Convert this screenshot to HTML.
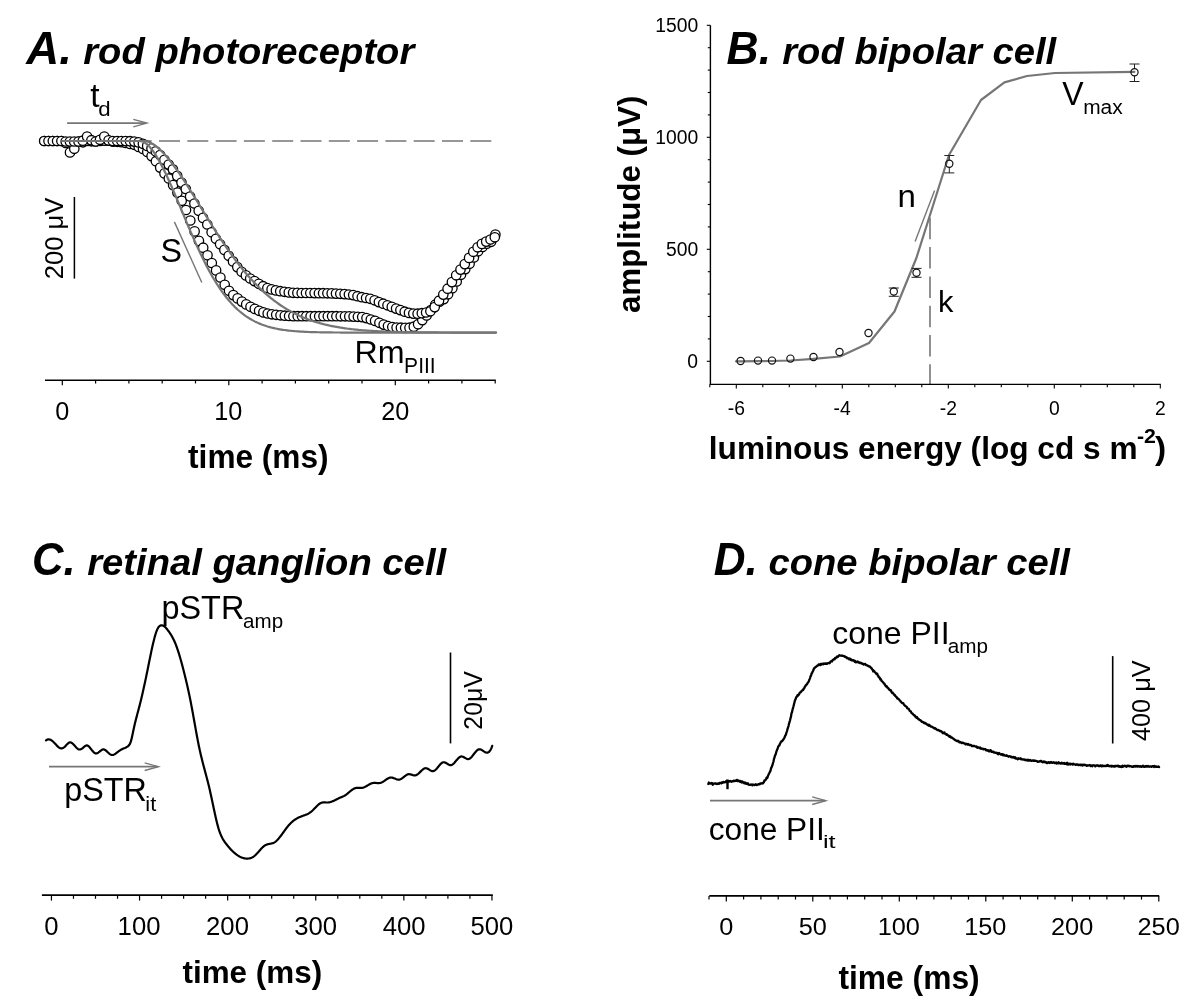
<!DOCTYPE html>
<html><head><meta charset="utf-8">
<style>
html,body{margin:0;padding:0;background:#fff;width:1200px;height:1004px;overflow:hidden}
svg{display:block;font-family:"Liberation Sans",sans-serif;filter:grayscale(1)}
</style></head><body>
<svg width="1200" height="1004" viewBox="0 0 1200 1004">
<line x1="145.30" y1="141.00" x2="496.00" y2="141.00" stroke="#767676" stroke-width="1.6" stroke-dasharray="21 7.3" stroke-dashoffset="14.6"/>
<line x1="174.40" y1="221.90" x2="201.80" y2="282.50" stroke="#767676" stroke-width="1.4"/>
<line x1="67.10" y1="123.10" x2="146.10" y2="123.10" stroke="#767676" stroke-width="1.7"/><path d="M133.30,119.30 L147.10,123.10 L133.30,126.90" fill="none" stroke="#767676" stroke-width="1.3" stroke-linejoin="miter"/>
<g fill="#fff" stroke="#000" stroke-width="1.3"><circle cx="44.2" cy="141.0" r="4.7"/><circle cx="48.5" cy="141.0" r="4.7"/><circle cx="52.8" cy="141.0" r="4.7"/><circle cx="57.1" cy="141.0" r="4.7"/><circle cx="61.4" cy="141.0" r="4.7"/><circle cx="65.7" cy="142.9" r="4.7"/><circle cx="70.0" cy="152.4" r="4.7"/><circle cx="74.3" cy="148.8" r="4.7"/><circle cx="78.6" cy="141.5" r="4.7"/><circle cx="82.9" cy="142.3" r="4.7"/><circle cx="87.2" cy="141.0" r="4.7"/><circle cx="91.5" cy="141.3" r="4.7"/><circle cx="95.8" cy="141.5" r="4.7"/><circle cx="100.1" cy="141.0" r="4.7"/><circle cx="104.4" cy="140.6" r="4.7"/><circle cx="108.7" cy="140.6" r="4.7"/><circle cx="113.0" cy="141.6" r="4.7"/><circle cx="117.3" cy="141.8" r="4.7"/><circle cx="121.5" cy="142.2" r="4.7"/><circle cx="125.8" cy="143.0" r="4.7"/><circle cx="130.1" cy="143.9" r="4.7"/><circle cx="134.4" cy="144.8" r="4.7"/><circle cx="138.7" cy="146.9" r="4.7"/><circle cx="143.0" cy="149.0" r="4.7"/><circle cx="147.3" cy="151.9" r="4.7"/><circle cx="151.6" cy="156.1" r="4.7"/><circle cx="155.9" cy="161.2" r="4.7"/><circle cx="160.2" cy="167.6" r="4.7"/><circle cx="164.5" cy="173.4" r="4.7"/><circle cx="168.8" cy="178.5" r="4.7"/><circle cx="173.1" cy="185.1" r="4.7"/><circle cx="177.4" cy="192.6" r="4.7"/><circle cx="181.7" cy="200.8" r="4.7"/><circle cx="186.0" cy="210.0" r="4.7"/><circle cx="190.3" cy="220.5" r="4.7"/><circle cx="194.6" cy="231.4" r="4.7"/><circle cx="198.9" cy="240.9" r="4.7"/><circle cx="203.2" cy="247.7" r="4.7"/><circle cx="207.5" cy="255.3" r="4.7"/><circle cx="211.8" cy="263.0" r="4.7"/><circle cx="216.1" cy="270.4" r="4.7"/><circle cx="220.4" cy="277.5" r="4.7"/><circle cx="224.7" cy="284.8" r="4.7"/><circle cx="229.0" cy="290.8" r="4.7"/><circle cx="233.3" cy="295.1" r="4.7"/><circle cx="237.6" cy="298.4" r="4.7"/><circle cx="241.9" cy="301.6" r="4.7"/><circle cx="246.2" cy="304.4" r="4.7"/><circle cx="250.5" cy="306.8" r="4.7"/><circle cx="254.8" cy="308.9" r="4.7"/><circle cx="259.1" cy="310.8" r="4.7"/><circle cx="263.4" cy="312.4" r="4.7"/><circle cx="267.7" cy="313.5" r="4.7"/><circle cx="271.9" cy="314.3" r="4.7"/><circle cx="276.2" cy="314.8" r="4.7"/><circle cx="280.5" cy="315.3" r="4.7"/><circle cx="284.8" cy="315.7" r="4.7"/><circle cx="289.1" cy="316.0" r="4.7"/><circle cx="293.4" cy="316.2" r="4.7"/><circle cx="297.7" cy="316.2" r="4.7"/><circle cx="302.0" cy="316.2" r="4.7"/><circle cx="306.3" cy="316.2" r="4.7"/><circle cx="310.6" cy="316.2" r="4.7"/><circle cx="314.9" cy="316.2" r="4.7"/><circle cx="319.2" cy="316.2" r="4.7"/><circle cx="323.5" cy="316.2" r="4.7"/><circle cx="327.8" cy="316.2" r="4.7"/><circle cx="332.1" cy="316.2" r="4.7"/><circle cx="336.4" cy="316.2" r="4.7"/><circle cx="340.7" cy="316.3" r="4.7"/><circle cx="345.0" cy="316.3" r="4.7"/><circle cx="349.3" cy="316.4" r="4.7"/><circle cx="353.6" cy="316.6" r="4.7"/><circle cx="357.9" cy="316.8" r="4.7"/><circle cx="362.2" cy="317.1" r="4.7"/><circle cx="366.5" cy="318.1" r="4.7"/><circle cx="370.8" cy="319.5" r="4.7"/><circle cx="375.1" cy="320.9" r="4.7"/><circle cx="379.4" cy="322.8" r="4.7"/><circle cx="383.7" cy="324.6" r="4.7"/><circle cx="388.0" cy="326.0" r="4.7"/><circle cx="392.3" cy="327.1" r="4.7"/><circle cx="396.6" cy="327.6" r="4.7"/><circle cx="400.9" cy="327.7" r="4.7"/><circle cx="405.2" cy="327.8" r="4.7"/><circle cx="409.5" cy="327.7" r="4.7"/><circle cx="413.8" cy="326.7" r="4.7"/><circle cx="418.1" cy="324.2" r="4.7"/><circle cx="422.3" cy="320.1" r="4.7"/><circle cx="426.6" cy="315.5" r="4.7"/><circle cx="430.9" cy="310.0" r="4.7"/><circle cx="435.2" cy="304.7" r="4.7"/><circle cx="439.5" cy="301.7" r="4.7"/><circle cx="443.8" cy="299.1" r="4.7"/><circle cx="448.1" cy="294.3" r="4.7"/><circle cx="452.4" cy="288.2" r="4.7"/><circle cx="456.7" cy="281.5" r="4.7"/><circle cx="461.0" cy="274.8" r="4.7"/><circle cx="465.3" cy="269.1" r="4.7"/><circle cx="469.6" cy="263.7" r="4.7"/><circle cx="473.9" cy="257.4" r="4.7"/><circle cx="478.2" cy="251.3" r="4.7"/><circle cx="482.5" cy="247.0" r="4.7"/><circle cx="486.8" cy="243.7" r="4.7"/><circle cx="491.1" cy="241.8" r="4.7"/><circle cx="495.4" cy="234.5" r="4.7"/><circle cx="44.2" cy="141.0" r="4.7"/><circle cx="48.5" cy="141.0" r="4.7"/><circle cx="52.8" cy="141.0" r="4.7"/><circle cx="57.1" cy="141.0" r="4.7"/><circle cx="61.4" cy="141.0" r="4.7"/><circle cx="65.7" cy="141.5" r="4.7"/><circle cx="69.9" cy="141.5" r="4.7"/><circle cx="74.2" cy="141.5" r="4.7"/><circle cx="78.5" cy="141.5" r="4.7"/><circle cx="82.8" cy="140.7" r="4.7"/><circle cx="87.1" cy="136.6" r="4.7"/><circle cx="91.4" cy="140.2" r="4.7"/><circle cx="95.7" cy="141.5" r="4.7"/><circle cx="100.0" cy="139.8" r="4.7"/><circle cx="104.3" cy="136.6" r="4.7"/><circle cx="108.6" cy="140.4" r="4.7"/><circle cx="112.9" cy="141.0" r="4.7"/><circle cx="117.2" cy="141.0" r="4.7"/><circle cx="121.4" cy="141.0" r="4.7"/><circle cx="125.7" cy="141.1" r="4.7"/><circle cx="130.0" cy="141.2" r="4.7"/><circle cx="134.3" cy="141.6" r="4.7"/><circle cx="138.6" cy="142.4" r="4.7"/><circle cx="142.9" cy="143.8" r="4.7"/><circle cx="147.2" cy="145.9" r="4.7"/><circle cx="151.5" cy="148.4" r="4.7"/><circle cx="155.8" cy="151.4" r="4.7"/><circle cx="160.1" cy="155.1" r="4.7"/><circle cx="164.4" cy="159.8" r="4.7"/><circle cx="168.7" cy="164.5" r="4.7"/><circle cx="172.9" cy="169.3" r="4.7"/><circle cx="177.2" cy="175.9" r="4.7"/><circle cx="181.5" cy="182.6" r="4.7"/><circle cx="185.8" cy="189.0" r="4.7"/><circle cx="190.1" cy="196.5" r="4.7"/><circle cx="194.4" cy="203.5" r="4.7"/><circle cx="198.7" cy="210.8" r="4.7"/><circle cx="203.0" cy="217.9" r="4.7"/><circle cx="207.3" cy="224.5" r="4.7"/><circle cx="211.6" cy="232.3" r="4.7"/><circle cx="215.9" cy="238.8" r="4.7"/><circle cx="220.1" cy="244.3" r="4.7"/><circle cx="224.4" cy="249.9" r="4.7"/><circle cx="228.7" cy="255.8" r="4.7"/><circle cx="233.0" cy="261.4" r="4.7"/><circle cx="237.3" cy="267.1" r="4.7"/><circle cx="241.6" cy="271.8" r="4.7"/><circle cx="245.9" cy="275.4" r="4.7"/><circle cx="250.2" cy="278.5" r="4.7"/><circle cx="254.5" cy="281.1" r="4.7"/><circle cx="258.8" cy="283.8" r="4.7"/><circle cx="263.1" cy="286.2" r="4.7"/><circle cx="267.4" cy="288.0" r="4.7"/><circle cx="271.6" cy="289.4" r="4.7"/><circle cx="275.9" cy="290.4" r="4.7"/><circle cx="280.2" cy="291.2" r="4.7"/><circle cx="284.5" cy="291.8" r="4.7"/><circle cx="288.8" cy="292.4" r="4.7"/><circle cx="293.1" cy="292.8" r="4.7"/><circle cx="297.4" cy="292.9" r="4.7"/><circle cx="301.7" cy="293.0" r="4.7"/><circle cx="306.0" cy="293.0" r="4.7"/><circle cx="310.3" cy="293.0" r="4.7"/><circle cx="314.6" cy="293.1" r="4.7"/><circle cx="318.9" cy="293.2" r="4.7"/><circle cx="323.1" cy="293.2" r="4.7"/><circle cx="327.4" cy="293.3" r="4.7"/><circle cx="331.7" cy="293.4" r="4.7"/><circle cx="336.0" cy="293.6" r="4.7"/><circle cx="340.3" cy="293.8" r="4.7"/><circle cx="344.6" cy="294.1" r="4.7"/><circle cx="348.9" cy="294.5" r="4.7"/><circle cx="353.2" cy="295.1" r="4.7"/><circle cx="357.5" cy="296.2" r="4.7"/><circle cx="361.8" cy="297.2" r="4.7"/><circle cx="366.1" cy="298.0" r="4.7"/><circle cx="370.3" cy="298.8" r="4.7"/><circle cx="374.6" cy="300.3" r="4.7"/><circle cx="378.9" cy="302.1" r="4.7"/><circle cx="383.2" cy="303.7" r="4.7"/><circle cx="387.5" cy="305.3" r="4.7"/><circle cx="391.8" cy="306.9" r="4.7"/><circle cx="396.1" cy="308.6" r="4.7"/><circle cx="400.4" cy="310.1" r="4.7"/><circle cx="404.7" cy="311.7" r="4.7"/><circle cx="409.0" cy="312.9" r="4.7"/><circle cx="413.3" cy="313.6" r="4.7"/><circle cx="417.6" cy="313.7" r="4.7"/><circle cx="421.8" cy="313.2" r="4.7"/><circle cx="426.1" cy="312.5" r="4.7"/><circle cx="430.4" cy="311.3" r="4.7"/><circle cx="434.7" cy="307.1" r="4.7"/><circle cx="439.0" cy="300.7" r="4.7"/><circle cx="443.3" cy="294.6" r="4.7"/><circle cx="447.6" cy="288.7" r="4.7"/><circle cx="451.9" cy="282.1" r="4.7"/><circle cx="456.2" cy="275.3" r="4.7"/><circle cx="460.5" cy="269.6" r="4.7"/><circle cx="464.8" cy="264.1" r="4.7"/><circle cx="469.1" cy="257.9" r="4.7"/><circle cx="473.3" cy="251.8" r="4.7"/><circle cx="477.6" cy="247.3" r="4.7"/><circle cx="481.9" cy="243.9" r="4.7"/><circle cx="486.2" cy="241.6" r="4.7"/><circle cx="490.5" cy="239.5" r="4.7"/><circle cx="494.8" cy="237.3" r="4.7"/></g>
<path d="M62.30,141.00 L63.75,141.00 L65.20,141.00 L66.65,141.00 L68.10,141.00 L69.55,141.00 L71.00,141.00 L72.45,141.00 L73.90,141.00 L75.36,141.00 L76.81,141.00 L78.26,141.00 L79.71,141.00 L81.16,141.00 L82.61,141.00 L84.06,141.00 L85.51,141.00 L86.96,141.00 L88.41,141.00 L89.86,141.00 L91.31,141.00 L92.76,141.00 L94.21,141.00 L95.66,141.00 L97.11,141.00 L98.57,141.00 L100.02,141.00 L101.47,141.00 L102.92,141.00 L104.37,141.00 L105.82,141.00 L107.27,141.00 L108.72,141.00 L110.17,141.00 L111.62,141.00 L113.07,141.00 L114.52,141.00 L115.97,141.00 L117.42,141.00 L118.87,141.00 L120.32,141.00 L121.78,141.00 L123.23,141.00 L124.68,141.00 L126.13,141.00 L127.58,141.00 L129.03,141.00 L130.48,141.00 L131.93,141.00 L133.38,141.00 L134.83,141.00 L136.28,141.00 L137.73,141.00 L139.18,141.00 L140.63,141.03 L142.08,141.35 L143.53,141.93 L144.98,142.76 L146.44,143.82 L147.89,145.08 L149.34,146.54 L150.79,148.19 L152.24,150.01 L153.69,152.00 L155.14,154.15 L156.59,156.44 L158.04,158.87 L159.49,161.43 L160.94,164.11 L162.39,166.90 L163.84,169.79 L165.29,172.77 L166.74,175.84 L168.19,178.99 L169.65,182.20 L171.10,185.48 L172.55,188.81 L174.00,192.18 L175.45,195.58 L176.90,199.02 L178.35,202.48 L179.80,205.95 L181.25,209.43 L182.70,212.91 L184.15,216.39 L185.60,219.86 L187.05,223.31 L188.50,226.74 L189.95,230.15 L191.40,233.52 L192.85,236.85 L194.31,240.15 L195.76,243.40 L197.21,246.60 L198.66,249.75 L200.11,252.85 L201.56,255.89 L203.01,258.87 L204.46,261.78 L205.91,264.63 L207.36,267.42 L208.81,270.14 L210.26,272.79 L211.71,275.37 L213.16,277.87 L214.61,280.31 L216.06,282.67 L217.52,284.97 L218.97,287.19 L220.42,289.33 L221.87,291.41 L223.32,293.41 L224.77,295.35 L226.22,297.21 L227.67,299.00 L229.12,300.73 L230.57,302.39 L232.02,303.98 L233.47,305.50 L234.92,306.97 L236.37,308.37 L237.82,309.71 L239.27,310.99 L240.73,312.22 L242.18,313.38 L243.63,314.50 L245.08,315.56 L246.53,316.57 L247.98,317.53 L249.43,318.44 L250.88,319.30 L252.33,320.13 L253.78,320.90 L255.23,321.64 L256.68,322.34 L258.13,323.00 L259.58,323.62 L261.03,324.21 L262.48,324.77 L263.93,325.29 L265.39,325.78 L266.84,326.25 L268.29,326.68 L269.74,327.09 L271.19,327.48 L272.64,327.84 L274.09,328.18 L275.54,328.49 L276.99,328.79 L278.44,329.07 L279.89,329.33 L281.34,329.57 L282.79,329.80 L284.24,330.01 L285.69,330.21 L287.14,330.39 L288.60,330.56 L290.05,330.72 L291.50,330.87 L292.95,331.00 L294.40,331.13 L295.85,331.25 L297.30,331.36 L298.75,331.46 L300.20,331.55 L301.65,331.64 L303.10,331.72 L304.55,331.79 L306.00,331.86 L307.45,331.92 L308.90,331.98 L310.35,332.03 L311.80,332.08 L313.26,332.13 L314.71,332.17 L316.16,332.21 L317.61,332.24 L319.06,332.27 L320.51,332.30 L321.96,332.33 L323.41,332.35 L324.86,332.38 L326.31,332.40 L327.76,332.42 L329.21,332.43 L330.66,332.45 L332.11,332.46 L333.56,332.48 L335.01,332.49 L336.47,332.50 L337.92,332.51 L339.37,332.52 L340.82,332.53 L342.27,332.53 L343.72,332.54 L345.17,332.55 L346.62,332.55 L348.07,332.56 L349.52,332.56 L350.97,332.56 L352.42,332.57 L353.87,332.57 L355.32,332.57 L356.77,332.58 L358.22,332.58 L359.68,332.58 L361.13,332.58 L362.58,332.59 L364.03,332.59 L365.48,332.59 L366.93,332.59 L368.38,332.59 L369.83,332.59 L371.28,332.59 L372.73,332.59 L374.18,332.59 L375.63,332.59 L377.08,332.60 L378.53,332.60 L379.98,332.60 L381.43,332.60 L382.88,332.60 L384.34,332.60 L385.79,332.60 L387.24,332.60 L388.69,332.60 L390.14,332.60 L391.59,332.60 L393.04,332.60 L394.49,332.60 L395.94,332.60 L397.39,332.60 L398.84,332.60 L400.29,332.60 L401.74,332.60 L403.19,332.60 L404.64,332.60 L406.09,332.60 L407.55,332.60 L409.00,332.60 L410.45,332.60 L411.90,332.60 L413.35,332.60 L414.80,332.60 L416.25,332.60 L417.70,332.60 L419.15,332.60 L420.60,332.60 L422.05,332.60 L423.50,332.60 L424.95,332.60 L426.40,332.60 L427.85,332.60 L429.30,332.60 L430.76,332.60 L432.21,332.60 L433.66,332.60 L435.11,332.60 L436.56,332.60 L438.01,332.60 L439.46,332.60 L440.91,332.60 L442.36,332.60 L443.81,332.60 L445.26,332.60 L446.71,332.60 L448.16,332.60 L449.61,332.60 L451.06,332.60 L452.51,332.60 L453.96,332.60 L455.42,332.60 L456.87,332.60 L458.32,332.60 L459.77,332.60 L461.22,332.60 L462.67,332.60 L464.12,332.60 L465.57,332.60 L467.02,332.60 L468.47,332.60 L469.92,332.60 L471.37,332.60 L472.82,332.60 L474.27,332.60 L475.72,332.60 L477.17,332.60 L478.63,332.60 L480.08,332.60 L481.53,332.60 L482.98,332.60 L484.43,332.60 L485.88,332.60 L487.33,332.60 L488.78,332.60 L490.23,332.60 L491.68,332.60 L493.13,332.60 L494.58,332.60 L496.03,332.60" fill="none" stroke="#767676" stroke-width="2.2" stroke-linejoin="round" stroke-linecap="round"/>
<path d="M62.30,141.00 L63.75,141.00 L65.20,141.00 L66.65,141.00 L68.10,141.00 L69.55,141.00 L71.00,141.00 L72.45,141.00 L73.90,141.00 L75.36,141.00 L76.81,141.00 L78.26,141.00 L79.71,141.00 L81.16,141.00 L82.61,141.00 L84.06,141.00 L85.51,141.00 L86.96,141.00 L88.41,141.00 L89.86,141.00 L91.31,141.00 L92.76,141.00 L94.21,141.00 L95.66,141.00 L97.11,141.00 L98.57,141.00 L100.02,141.00 L101.47,141.00 L102.92,141.00 L104.37,141.00 L105.82,141.00 L107.27,141.00 L108.72,141.00 L110.17,141.00 L111.62,141.00 L113.07,141.00 L114.52,141.00 L115.97,141.00 L117.42,141.00 L118.87,141.00 L120.32,141.00 L121.78,141.00 L123.23,141.00 L124.68,141.00 L126.13,141.00 L127.58,141.00 L129.03,141.00 L130.48,141.00 L131.93,141.00 L133.38,141.00 L134.83,141.00 L136.28,141.00 L137.73,141.00 L139.18,141.00 L140.63,141.00 L142.08,141.00 L143.53,141.00 L144.98,141.03 L146.44,141.27 L147.89,141.68 L149.34,142.23 L150.79,142.91 L152.24,143.70 L153.69,144.61 L155.14,145.62 L156.59,146.72 L158.04,147.92 L159.49,149.21 L160.94,150.58 L162.39,152.03 L163.84,153.55 L165.29,155.14 L166.74,156.80 L168.19,158.53 L169.65,160.31 L171.10,162.15 L172.55,164.05 L174.00,165.99 L175.45,167.98 L176.90,170.01 L178.35,172.09 L179.80,174.20 L181.25,176.35 L182.70,178.53 L184.15,180.73 L185.60,182.97 L187.05,185.23 L188.50,187.51 L189.95,189.80 L191.40,192.12 L192.85,194.45 L194.31,196.78 L195.76,199.13 L197.21,201.49 L198.66,203.85 L200.11,206.21 L201.56,208.57 L203.01,210.93 L204.46,213.29 L205.91,215.64 L207.36,217.99 L208.81,220.33 L210.26,222.65 L211.71,224.97 L213.16,227.27 L214.61,229.56 L216.06,231.83 L217.52,234.08 L218.97,236.31 L220.42,238.53 L221.87,240.72 L223.32,242.89 L224.77,245.04 L226.22,247.16 L227.67,249.26 L229.12,251.34 L230.57,253.38 L232.02,255.40 L233.47,257.39 L234.92,259.35 L236.37,261.29 L237.82,263.19 L239.27,265.07 L240.73,266.91 L242.18,268.72 L243.63,270.50 L245.08,272.25 L246.53,273.97 L247.98,275.66 L249.43,277.31 L250.88,278.93 L252.33,280.52 L253.78,282.08 L255.23,283.61 L256.68,285.10 L258.13,286.56 L259.58,287.99 L261.03,289.39 L262.48,290.75 L263.93,292.09 L265.39,293.39 L266.84,294.66 L268.29,295.91 L269.74,297.12 L271.19,298.30 L272.64,299.45 L274.09,300.57 L275.54,301.66 L276.99,302.72 L278.44,303.76 L279.89,304.76 L281.34,305.74 L282.79,306.69 L284.24,307.62 L285.69,308.52 L287.14,309.39 L288.60,310.24 L290.05,311.06 L291.50,311.86 L292.95,312.63 L294.40,313.38 L295.85,314.10 L297.30,314.81 L298.75,315.49 L300.20,316.15 L301.65,316.79 L303.10,317.41 L304.55,318.00 L306.00,318.58 L307.45,319.14 L308.90,319.68 L310.35,320.20 L311.80,320.70 L313.26,321.19 L314.71,321.66 L316.16,322.11 L317.61,322.55 L319.06,322.97 L320.51,323.37 L321.96,323.77 L323.41,324.14 L324.86,324.50 L326.31,324.85 L327.76,325.19 L329.21,325.51 L330.66,325.82 L332.11,326.12 L333.56,326.41 L335.01,326.68 L336.47,326.95 L337.92,327.20 L339.37,327.45 L340.82,327.68 L342.27,327.91 L343.72,328.12 L345.17,328.33 L346.62,328.53 L348.07,328.72 L349.52,328.90 L350.97,329.07 L352.42,329.24 L353.87,329.40 L355.32,329.56 L356.77,329.70 L358.22,329.84 L359.68,329.98 L361.13,330.10 L362.58,330.23 L364.03,330.34 L365.48,330.45 L366.93,330.56 L368.38,330.66 L369.83,330.76 L371.28,330.85 L372.73,330.94 L374.18,331.03 L375.63,331.11 L377.08,331.18 L378.53,331.26 L379.98,331.33 L381.43,331.39 L382.88,331.46 L384.34,331.52 L385.79,331.57 L387.24,331.63 L388.69,331.68 L390.14,331.73 L391.59,331.77 L393.04,331.82 L394.49,331.86 L395.94,331.90 L397.39,331.94 L398.84,331.98 L400.29,332.01 L401.74,332.04 L403.19,332.07 L404.64,332.10 L406.09,332.13 L407.55,332.16 L409.00,332.18 L410.45,332.21 L411.90,332.23 L413.35,332.25 L414.80,332.27 L416.25,332.29 L417.70,332.31 L419.15,332.32 L420.60,332.34 L422.05,332.35 L423.50,332.37 L424.95,332.38 L426.40,332.39 L427.85,332.41 L429.30,332.42 L430.76,332.43 L432.21,332.44 L433.66,332.45 L435.11,332.46 L436.56,332.47 L438.01,332.47 L439.46,332.48 L440.91,332.49 L442.36,332.50 L443.81,332.50 L445.26,332.51 L446.71,332.51 L448.16,332.52 L449.61,332.52 L451.06,332.53 L452.51,332.53 L453.96,332.54 L455.42,332.54 L456.87,332.55 L458.32,332.55 L459.77,332.55 L461.22,332.56 L462.67,332.56 L464.12,332.56 L465.57,332.56 L467.02,332.57 L468.47,332.57 L469.92,332.57 L471.37,332.57 L472.82,332.57 L474.27,332.58 L475.72,332.58 L477.17,332.58 L478.63,332.58 L480.08,332.58 L481.53,332.58 L482.98,332.58 L484.43,332.58 L485.88,332.59 L487.33,332.59 L488.78,332.59 L490.23,332.59 L491.68,332.59 L493.13,332.59 L494.58,332.59 L496.03,332.59" fill="none" stroke="#767676" stroke-width="2.2" stroke-linejoin="round" stroke-linecap="round"/>
<line x1="930.00" y1="217.80" x2="930.00" y2="384.40" stroke="#767676" stroke-width="1.6" stroke-dasharray="21.5 7.8" stroke-dashoffset="0"/>
<path d="M736.00,361.30 L740.60,361.30 L758.00,361.20 L772.00,361.00 L790.40,360.50 L813.60,358.80 L840.00,356.50 L869.00,343.00 L894.50,311.50 L916.40,258.00 L949.00,155.00 L981.00,100.00 L1004.40,82.40 L1027.00,76.00 L1055.00,73.00 L1134.40,71.80" fill="none" stroke="#767676" stroke-width="2.2" stroke-linejoin="round" stroke-linecap="round"/>
<line x1="915.10" y1="241.40" x2="934.60" y2="190.50" stroke="#767676" stroke-width="1.4"/>
<line x1="893.80" y1="288.00" x2="893.80" y2="287.90" stroke="#222" stroke-width="1.0"/>
<line x1="893.80" y1="295.10" x2="893.80" y2="296.30" stroke="#222" stroke-width="1.0"/>
<line x1="888.80" y1="288.00" x2="898.80" y2="288.00" stroke="#222" stroke-width="1.0"/>
<line x1="888.80" y1="296.30" x2="898.80" y2="296.30" stroke="#222" stroke-width="1.0"/>
<line x1="916.50" y1="268.40" x2="916.50" y2="269.20" stroke="#222" stroke-width="1.0"/>
<line x1="916.50" y1="276.40" x2="916.50" y2="277.30" stroke="#222" stroke-width="1.0"/>
<line x1="911.50" y1="268.40" x2="921.50" y2="268.40" stroke="#222" stroke-width="1.0"/>
<line x1="911.50" y1="277.30" x2="921.50" y2="277.30" stroke="#222" stroke-width="1.0"/>
<line x1="949.30" y1="155.50" x2="949.30" y2="160.20" stroke="#222" stroke-width="1.0"/>
<line x1="949.30" y1="167.40" x2="949.30" y2="172.90" stroke="#222" stroke-width="1.0"/>
<line x1="944.30" y1="155.50" x2="954.30" y2="155.50" stroke="#222" stroke-width="1.0"/>
<line x1="944.30" y1="172.90" x2="954.30" y2="172.90" stroke="#222" stroke-width="1.0"/>
<line x1="1134.50" y1="64.00" x2="1134.50" y2="68.70" stroke="#222" stroke-width="1.0"/>
<line x1="1134.50" y1="75.90" x2="1134.50" y2="81.50" stroke="#222" stroke-width="1.0"/>
<line x1="1129.50" y1="64.00" x2="1139.50" y2="64.00" stroke="#222" stroke-width="1.0"/>
<line x1="1129.50" y1="81.50" x2="1139.50" y2="81.50" stroke="#222" stroke-width="1.0"/>
<g fill="none" stroke="#111" stroke-width="1.2"><circle cx="740.6" cy="361.0" r="3.6"/><circle cx="758.0" cy="360.6" r="3.6"/><circle cx="772.0" cy="360.6" r="3.6"/><circle cx="790.4" cy="358.6" r="3.6"/><circle cx="813.5" cy="357.0" r="3.6"/><circle cx="839.5" cy="352.0" r="3.6"/><circle cx="868.5" cy="333.0" r="3.6"/><circle cx="893.8" cy="291.5" r="3.6"/><circle cx="916.5" cy="272.8" r="3.6"/><circle cx="949.3" cy="163.8" r="3.6"/><circle cx="1134.5" cy="72.3" r="3.6"/></g>
<line x1="49.00" y1="766.70" x2="157.50" y2="766.70" stroke="#767676" stroke-width="1.7"/><path d="M144.70,762.90 L158.50,766.70 L144.70,770.50" fill="none" stroke="#767676" stroke-width="1.3" stroke-linejoin="miter"/>
<path d="M46.00,740.40 L46.50,740.04 L46.99,739.76 L47.49,739.56 L47.99,739.44 L48.48,739.38 L48.98,739.40 L49.47,739.48 L49.97,739.61 L50.47,739.81 L50.96,740.06 L51.46,740.35 L51.96,740.69 L52.45,741.07 L52.95,741.49 L53.44,741.94 L53.94,742.43 L54.44,742.93 L54.93,743.46 L55.43,744.01 L55.93,744.56 L56.42,745.10 L56.92,745.63 L57.42,746.14 L57.91,746.63 L58.41,747.07 L58.90,747.46 L59.40,747.80 L59.90,748.08 L60.39,748.28 L60.89,748.40 L61.39,748.43 L61.88,748.37 L62.38,748.24 L62.88,748.03 L63.37,747.76 L63.87,747.43 L64.36,747.05 L64.86,746.61 L65.36,746.14 L65.85,745.64 L66.35,745.11 L66.85,744.59 L67.34,744.08 L67.84,743.60 L68.33,743.18 L68.83,742.83 L69.33,742.57 L69.82,742.41 L70.32,742.38 L70.82,742.46 L71.31,742.65 L71.81,742.93 L72.31,743.28 L72.80,743.71 L73.30,744.19 L73.79,744.71 L74.29,745.26 L74.79,745.83 L75.28,746.40 L75.78,746.97 L76.28,747.51 L76.77,748.01 L77.27,748.46 L77.77,748.85 L78.26,749.17 L78.76,749.39 L79.25,749.50 L79.75,749.52 L80.25,749.45 L80.74,749.30 L81.24,749.08 L81.74,748.79 L82.23,748.45 L82.73,748.06 L83.22,747.63 L83.72,747.19 L84.22,746.75 L84.71,746.33 L85.21,745.97 L85.71,745.68 L86.20,745.48 L86.70,745.40 L87.20,745.46 L87.69,745.64 L88.19,745.94 L88.68,746.34 L89.18,746.82 L89.68,747.36 L90.17,747.96 L90.67,748.58 L91.17,749.21 L91.66,749.85 L92.16,750.47 L92.65,751.06 L93.15,751.62 L93.65,752.12 L94.14,752.56 L94.64,752.93 L95.14,753.20 L95.63,753.37 L96.13,753.42 L96.63,753.37 L97.12,753.22 L97.62,753.00 L98.11,752.70 L98.61,752.36 L99.11,751.98 L99.60,751.58 L100.10,751.17 L100.60,750.77 L101.09,750.40 L101.59,750.06 L102.09,749.77 L102.58,749.56 L103.08,749.43 L103.57,749.39 L104.07,749.47 L104.57,749.65 L105.06,749.92 L105.56,750.27 L106.06,750.67 L106.55,751.11 L107.05,751.58 L107.54,752.06 L108.04,752.54 L108.54,752.99 L109.03,753.42 L109.53,753.81 L110.03,754.16 L110.52,754.46 L111.02,754.70 L111.52,754.88 L112.01,754.98 L112.51,755.01 L113.00,754.95 L113.50,754.82 L114.00,754.61 L114.49,754.34 L114.99,754.02 L115.49,753.67 L115.98,753.30 L116.48,752.91 L116.98,752.52 L117.47,752.14 L117.97,751.77 L118.46,751.41 L118.96,751.06 L119.46,750.73 L119.95,750.41 L120.45,750.10 L120.95,749.81 L121.44,749.54 L121.94,749.28 L122.43,749.04 L122.93,748.81 L123.43,748.58 L123.92,748.36 L124.42,748.14 L124.92,747.92 L125.41,747.69 L125.91,747.44 L126.41,747.18 L126.90,746.90 L127.40,746.60 L127.89,746.27 L128.39,745.88 L128.89,745.40 L129.38,744.76 L129.88,743.92 L130.38,742.82 L130.87,741.42 L131.37,739.67 L131.86,737.62 L132.36,735.35 L132.86,732.98 L133.35,730.57 L133.85,728.23 L134.35,726.00 L134.84,723.86 L135.34,721.79 L135.84,719.80 L136.33,717.86 L136.83,715.96 L137.32,714.09 L137.82,712.23 L138.32,710.37 L138.81,708.51 L139.31,706.62 L139.81,704.69 L140.30,702.73 L140.80,700.72 L141.30,698.66 L141.79,696.57 L142.29,694.45 L142.78,692.28 L143.28,690.08 L143.78,687.85 L144.27,685.59 L144.77,683.29 L145.27,680.97 L145.76,678.62 L146.26,676.24 L146.75,673.84 L147.25,671.42 L147.75,668.97 L148.24,666.51 L148.74,664.04 L149.24,661.57 L149.73,659.11 L150.23,656.66 L150.73,654.25 L151.22,651.88 L151.72,649.55 L152.21,647.28 L152.71,645.07 L153.21,642.94 L153.70,640.89 L154.20,638.93 L154.70,637.08 L155.19,635.34 L155.69,633.72 L156.19,632.22 L156.68,630.87 L157.18,629.66 L157.67,628.60 L158.17,627.71 L158.67,626.98 L159.16,626.41 L159.66,625.97 L160.16,625.65 L160.65,625.44 L161.15,625.33 L161.64,625.30 L162.14,625.34 L162.64,625.46 L163.13,625.64 L163.63,625.90 L164.13,626.22 L164.62,626.60 L165.12,627.05 L165.62,627.55 L166.11,628.10 L166.61,628.68 L167.10,629.30 L167.60,629.93 L168.10,630.58 L168.59,631.24 L169.09,631.92 L169.59,632.62 L170.08,633.35 L170.58,634.11 L171.07,634.90 L171.57,635.72 L172.07,636.58 L172.56,637.48 L173.06,638.42 L173.56,639.41 L174.05,640.45 L174.55,641.55 L175.05,642.70 L175.54,643.90 L176.04,645.17 L176.53,646.50 L177.03,647.88 L177.53,649.32 L178.02,650.81 L178.52,652.36 L179.02,653.95 L179.51,655.58 L180.01,657.26 L180.51,658.98 L181.00,660.73 L181.50,662.53 L181.99,664.36 L182.49,666.22 L182.99,668.11 L183.48,670.02 L183.98,671.97 L184.48,673.94 L184.97,675.94 L185.47,677.97 L185.96,680.04 L186.46,682.14 L186.96,684.29 L187.45,686.47 L187.95,688.69 L188.45,690.96 L188.94,693.28 L189.44,695.64 L189.94,698.06 L190.43,700.53 L190.93,703.05 L191.42,705.63 L191.92,708.27 L192.42,710.95 L192.91,713.68 L193.41,716.43 L193.91,719.21 L194.40,721.99 L194.90,724.78 L195.40,727.56 L195.89,730.32 L196.39,733.05 L196.88,735.75 L197.38,738.40 L197.88,740.99 L198.37,743.52 L198.87,745.97 L199.37,748.34 L199.86,750.62 L200.36,752.83 L200.85,754.97 L201.35,757.06 L201.85,759.08 L202.34,761.06 L202.84,763.01 L203.34,764.91 L203.83,766.80 L204.33,768.66 L204.83,770.51 L205.32,772.36 L205.82,774.22 L206.31,776.08 L206.81,777.96 L207.31,779.86 L207.80,781.79 L208.30,783.77 L208.80,785.78 L209.29,787.85 L209.79,789.99 L210.28,792.18 L210.78,794.42 L211.28,796.71 L211.77,799.03 L212.27,801.37 L212.77,803.73 L213.26,806.08 L213.76,808.43 L214.26,810.75 L214.75,813.05 L215.25,815.30 L215.74,817.51 L216.24,819.65 L216.74,821.72 L217.23,823.71 L217.73,825.60 L218.23,827.40 L218.72,829.07 L219.22,830.63 L219.72,832.07 L220.21,833.41 L220.71,834.64 L221.20,835.79 L221.70,836.85 L222.20,837.83 L222.69,838.74 L223.19,839.60 L223.69,840.40 L224.18,841.15 L224.68,841.87 L225.17,842.56 L225.67,843.23 L226.17,843.88 L226.66,844.52 L227.16,845.15 L227.66,845.77 L228.15,846.37 L228.65,846.96 L229.15,847.54 L229.64,848.11 L230.14,848.66 L230.63,849.20 L231.13,849.73 L231.63,850.24 L232.12,850.74 L232.62,851.23 L233.12,851.70 L233.61,852.16 L234.11,852.61 L234.61,853.04 L235.10,853.45 L235.60,853.85 L236.09,854.24 L236.59,854.61 L237.09,854.96 L237.58,855.31 L238.08,855.63 L238.58,855.94 L239.07,856.23 L239.57,856.51 L240.06,856.77 L240.56,857.01 L241.06,857.24 L241.55,857.45 L242.05,857.65 L242.55,857.82 L243.04,857.98 L243.54,858.12 L244.04,858.25 L244.53,858.35 L245.03,858.44 L245.52,858.51 L246.02,858.56 L246.52,858.59 L247.01,858.60 L247.51,858.59 L248.01,858.57 L248.50,858.52 L249.00,858.45 L249.49,858.36 L249.99,858.24 L250.49,858.10 L250.98,857.93 L251.48,857.74 L251.98,857.52 L252.47,857.26 L252.97,856.98 L253.47,856.66 L253.96,856.32 L254.46,855.93 L254.95,855.52 L255.45,855.07 L255.95,854.59 L256.44,854.09 L256.94,853.57 L257.44,853.04 L257.93,852.49 L258.43,851.93 L258.93,851.36 L259.42,850.79 L259.92,850.23 L260.41,849.66 L260.91,849.11 L261.41,848.57 L261.90,848.05 L262.40,847.55 L262.90,847.07 L263.39,846.62 L263.89,846.19 L264.38,845.81 L264.88,845.46 L265.38,845.16 L265.87,844.89 L266.37,844.67 L266.87,844.48 L267.36,844.33 L267.86,844.19 L268.36,844.08 L268.85,843.98 L269.35,843.89 L269.84,843.80 L270.34,843.72 L270.84,843.63 L271.33,843.53 L271.83,843.41 L272.33,843.28 L272.82,843.12 L273.32,842.93 L273.82,842.70 L274.31,842.44 L274.81,842.13 L275.30,841.78 L275.80,841.39 L276.30,840.97 L276.79,840.51 L277.29,840.02 L277.79,839.50 L278.28,838.95 L278.78,838.38 L279.27,837.79 L279.77,837.17 L280.27,836.54 L280.76,835.89 L281.26,835.23 L281.76,834.56 L282.25,833.88 L282.75,833.19 L283.25,832.50 L283.74,831.80 L284.24,831.11 L284.73,830.42 L285.23,829.74 L285.73,829.06 L286.22,828.39 L286.72,827.73 L287.22,827.09 L287.71,826.47 L288.21,825.86 L288.71,825.28 L289.20,824.72 L289.70,824.18 L290.19,823.66 L290.69,823.16 L291.19,822.69 L291.68,822.23 L292.18,821.79 L292.68,821.37 L293.17,820.97 L293.67,820.59 L294.16,820.22 L294.66,819.87 L295.16,819.54 L295.65,819.22 L296.15,818.91 L296.65,818.62 L297.14,818.34 L297.64,818.07 L298.14,817.82 L298.63,817.57 L299.13,817.34 L299.62,817.12 L300.12,816.90 L300.62,816.69 L301.11,816.49 L301.61,816.30 L302.11,816.12 L302.60,815.94 L303.10,815.76 L303.59,815.58 L304.09,815.40 L304.59,815.21 L305.08,815.03 L305.58,814.83 L306.08,814.63 L306.57,814.42 L307.07,814.20 L307.57,813.96 L308.06,813.71 L308.56,813.44 L309.05,813.16 L309.55,812.86 L310.05,812.53 L310.54,812.18 L311.04,811.81 L311.54,811.41 L312.03,810.98 L312.53,810.53 L313.03,810.05 L313.52,809.55 L314.02,809.04 L314.51,808.52 L315.01,807.99 L315.51,807.47 L316.00,806.94 L316.50,806.43 L317.00,805.93 L317.49,805.44 L317.99,804.98 L318.48,804.54 L318.98,804.14 L319.48,803.77 L319.97,803.44 L320.47,803.16 L320.97,802.93 L321.46,802.74 L321.96,802.61 L322.46,802.51 L322.95,802.45 L323.45,802.41 L323.94,802.40 L324.44,802.41 L324.94,802.43 L325.43,802.45 L325.93,802.48 L326.43,802.51 L326.92,802.52 L327.42,802.52 L327.92,802.51 L328.41,802.46 L328.91,802.39 L329.40,802.30 L329.90,802.19 L330.40,802.05 L330.89,801.90 L331.39,801.73 L331.89,801.54 L332.38,801.34 L332.88,801.13 L333.37,800.91 L333.87,800.68 L334.37,800.44 L334.86,800.19 L335.36,799.94 L335.86,799.69 L336.35,799.44 L336.85,799.19 L337.35,798.94 L337.84,798.69 L338.34,798.45 L338.83,798.21 L339.33,797.99 L339.83,797.77 L340.32,797.57 L340.82,797.37 L341.32,797.18 L341.81,796.99 L342.31,796.79 L342.80,796.59 L343.30,796.36 L343.80,796.12 L344.29,795.85 L344.79,795.55 L345.29,795.22 L345.78,794.88 L346.28,794.51 L346.78,794.13 L347.27,793.73 L347.77,793.32 L348.26,792.91 L348.76,792.49 L349.26,792.08 L349.75,791.66 L350.25,791.25 L350.75,790.85 L351.24,790.46 L351.74,790.09 L352.24,789.74 L352.73,789.41 L353.23,789.10 L353.72,788.82 L354.22,788.57 L354.72,788.36 L355.21,788.18 L355.71,788.05 L356.21,787.95 L356.70,787.89 L357.20,787.86 L357.69,787.85 L358.19,787.86 L358.69,787.88 L359.18,787.91 L359.68,787.93 L360.18,787.96 L360.67,787.97 L361.17,787.96 L361.67,787.93 L362.16,787.88 L362.66,787.79 L363.15,787.66 L363.65,787.50 L364.15,787.31 L364.64,787.09 L365.14,786.85 L365.64,786.59 L366.13,786.31 L366.63,786.03 L367.13,785.73 L367.62,785.43 L368.12,785.13 L368.61,784.84 L369.11,784.55 L369.61,784.28 L370.10,784.02 L370.60,783.78 L371.10,783.56 L371.59,783.37 L372.09,783.21 L372.58,783.08 L373.08,782.99 L373.58,782.93 L374.07,782.90 L374.57,782.89 L375.07,782.90 L375.56,782.93 L376.06,782.96 L376.56,782.99 L377.05,783.03 L377.55,783.06 L378.04,783.07 L378.54,783.08 L379.04,783.06 L379.53,783.02 L380.03,782.94 L380.53,782.84 L381.02,782.69 L381.52,782.51 L382.01,782.28 L382.51,782.02 L383.01,781.73 L383.50,781.42 L384.00,781.10 L384.50,780.76 L384.99,780.41 L385.49,780.06 L385.99,779.71 L386.48,779.37 L386.98,779.04 L387.47,778.73 L387.97,778.45 L388.47,778.19 L388.96,777.97 L389.46,777.78 L389.96,777.63 L390.45,777.54 L390.95,777.50 L391.45,777.51 L391.94,777.58 L392.44,777.69 L392.93,777.83 L393.43,778.00 L393.93,778.19 L394.42,778.40 L394.92,778.61 L395.42,778.82 L395.91,779.03 L396.41,779.21 L396.90,779.38 L397.40,779.51 L397.90,779.61 L398.39,779.66 L398.89,779.66 L399.39,779.60 L399.88,779.48 L400.38,779.30 L400.88,779.06 L401.37,778.78 L401.87,778.46 L402.36,778.11 L402.86,777.74 L403.36,777.35 L403.85,776.96 L404.35,776.56 L404.85,776.17 L405.34,775.80 L405.84,775.44 L406.34,775.12 L406.83,774.83 L407.33,774.58 L407.82,774.39 L408.32,774.25 L408.82,774.18 L409.31,774.17 L409.81,774.22 L410.31,774.31 L410.80,774.43 L411.30,774.58 L411.79,774.75 L412.29,774.91 L412.79,775.07 L413.28,775.21 L413.78,775.32 L414.28,775.40 L414.77,775.42 L415.27,775.39 L415.77,775.28 L416.26,775.10 L416.76,774.85 L417.25,774.55 L417.75,774.18 L418.25,773.78 L418.74,773.34 L419.24,772.87 L419.74,772.39 L420.23,771.89 L420.73,771.39 L421.22,770.90 L421.72,770.43 L422.22,769.98 L422.71,769.56 L423.21,769.18 L423.71,768.85 L424.20,768.58 L424.70,768.38 L425.20,768.25 L425.69,768.20 L426.19,768.24 L426.68,768.35 L427.18,768.52 L427.68,768.75 L428.17,769.02 L428.67,769.31 L429.17,769.62 L429.66,769.93 L430.16,770.23 L430.66,770.51 L431.15,770.75 L431.65,770.95 L432.14,771.09 L432.64,771.16 L433.14,771.14 L433.63,771.04 L434.13,770.83 L434.63,770.54 L435.12,770.18 L435.62,769.75 L436.11,769.26 L436.61,768.73 L437.11,768.16 L437.60,767.57 L438.10,766.96 L438.60,766.35 L439.09,765.75 L439.59,765.16 L440.09,764.60 L440.58,764.07 L441.08,763.60 L441.57,763.17 L442.07,762.82 L442.57,762.54 L443.06,762.36 L443.56,762.27 L444.06,762.27 L444.55,762.36 L445.05,762.52 L445.55,762.73 L446.04,762.99 L446.54,763.28 L447.03,763.59 L447.53,763.90 L448.03,764.20 L448.52,764.48 L449.02,764.73 L449.52,764.93 L450.01,765.07 L450.51,765.14 L451.00,765.12 L451.50,765.00 L452.00,764.78 L452.49,764.49 L452.99,764.12 L453.49,763.68 L453.98,763.20 L454.48,762.67 L454.98,762.10 L455.47,761.52 L455.97,760.92 L456.46,760.32 L456.96,759.73 L457.46,759.16 L457.95,758.61 L458.45,758.11 L458.95,757.65 L459.44,757.25 L459.94,756.92 L460.43,756.67 L460.93,756.51 L461.43,756.45 L461.92,756.48 L462.42,756.59 L462.92,756.76 L463.41,756.98 L463.91,757.23 L464.41,757.51 L464.90,757.81 L465.40,758.10 L465.89,758.37 L466.39,758.62 L466.89,758.83 L467.38,758.98 L467.88,759.07 L468.38,759.07 L468.87,758.98 L469.37,758.79 L469.87,758.51 L470.36,758.14 L470.86,757.70 L471.35,757.20 L471.85,756.65 L472.35,756.05 L472.84,755.43 L473.34,754.79 L473.84,754.13 L474.33,753.48 L474.83,752.84 L475.32,752.22 L475.82,751.63 L476.32,751.09 L476.81,750.60 L477.31,750.17 L477.81,749.82 L478.30,749.55 L478.80,749.37 L479.30,749.30 L479.79,749.31 L480.29,749.40 L480.78,749.56 L481.28,749.78 L481.78,750.04 L482.27,750.33 L482.77,750.65 L483.27,750.98 L483.76,751.30 L484.26,751.62 L484.76,751.91 L485.25,752.17 L485.75,752.38 L486.24,752.54 L486.74,752.63 L487.24,752.63 L487.73,752.55 L488.23,752.37 L488.73,752.07 L489.22,751.65 L489.72,751.10 L490.21,750.40 L490.71,749.54 L491.21,748.51 L491.70,747.30 L492.20,745.90" fill="none" stroke="#000" stroke-width="2.2" stroke-linejoin="round" stroke-linecap="round"/>
<line x1="710.00" y1="800.70" x2="825.00" y2="800.70" stroke="#767676" stroke-width="1.7"/><path d="M812.20,796.90 L826.00,800.70 L812.20,804.50" fill="none" stroke="#767676" stroke-width="1.3" stroke-linejoin="miter"/>
<path d="M708.3,784.0 L708.8,782.5 L709.3,783.6 L709.8,783.3 L710.3,783.4 L710.8,783.5 L711.3,782.9 L711.8,783.5 L712.3,783.3 L712.8,784.8 L713.3,783.8 L713.8,783.6 L714.3,783.6 L714.8,783.5 L715.3,783.3 L715.8,783.6 L716.3,783.9 L716.8,783.6 L717.3,784.0 L717.8,783.5 L718.3,783.5 L718.8,783.9 L719.3,783.4 L719.8,782.9 L720.3,782.9 L720.8,783.0 L721.3,783.3 L721.8,782.4 L722.3,782.4 L722.8,782.7 L723.3,782.0 L723.8,782.1 L724.3,782.4 L724.8,782.2 L725.3,782.0 L725.8,782.1 L726.3,780.9 L726.8,782.1 L727.4,781.4 L727.9,781.1 L728.4,781.7 L728.9,781.8 L729.4,781.3 L729.9,781.0 L730.4,781.3 L730.9,781.2 L731.4,781.7 L731.9,781.4 L732.4,781.2 L732.9,781.4 L733.4,780.9 L733.9,780.6 L734.4,781.1 L734.9,781.1 L735.4,780.8 L735.9,780.5 L736.4,780.9 L736.9,779.9 L737.4,781.1 L737.9,781.1 L738.4,780.4 L738.9,781.1 L739.4,780.9 L739.9,781.7 L740.4,780.9 L740.9,781.4 L741.4,782.2 L741.9,782.5 L742.4,781.5 L742.9,782.2 L743.4,782.6 L743.9,782.4 L744.4,783.4 L744.9,782.5 L745.4,783.2 L745.9,782.9 L746.4,783.9 L746.9,783.6 L747.4,783.6 L747.9,783.3 L748.4,784.7 L748.9,784.5 L749.4,784.7 L749.9,784.9 L750.4,784.8 L750.9,784.5 L751.4,784.6 L751.9,784.6 L752.4,785.4 L752.9,784.5 L753.4,784.8 L753.9,784.9 L754.4,785.0 L754.9,785.1 L755.4,784.4 L755.9,784.2 L756.4,784.7 L756.9,785.1 L757.4,784.8 L757.9,784.5 L758.4,784.2 L758.9,784.3 L759.4,783.9 L759.9,784.2 L760.4,783.5 L760.9,783.6 L761.4,783.4 L761.9,783.4 L762.4,783.0 L762.9,783.5 L763.4,782.7 L763.9,782.2 L764.4,780.5 L765.0,780.5 L765.5,779.8 L766.0,779.5 L766.5,777.8 L767.0,778.3 L767.5,777.5 L768.0,775.7 L768.5,774.7 L769.0,773.6 L769.5,772.7 L770.0,771.6 L770.5,770.8 L771.0,768.6 L771.5,767.6 L772.0,766.0 L772.5,765.0 L773.0,763.0 L773.5,761.5 L774.0,758.9 L774.5,757.4 L775.0,755.5 L775.5,754.8 L776.0,753.0 L776.5,751.3 L777.0,749.9 L777.5,749.0 L778.0,747.3 L778.5,746.1 L779.0,745.6 L779.5,745.3 L780.0,743.6 L780.5,742.8 L781.0,741.9 L781.5,741.2 L782.0,741.3 L782.5,740.8 L783.0,739.9 L783.5,739.3 L784.0,738.5 L784.5,737.7 L785.0,736.2 L785.5,735.4 L786.0,734.3 L786.5,732.5 L787.0,731.0 L787.5,729.1 L788.0,727.5 L788.5,726.1 L789.0,723.8 L789.5,722.1 L790.0,720.5 L790.5,718.3 L791.0,716.6 L791.5,713.2 L792.0,712.2 L792.5,709.7 L793.0,708.0 L793.5,706.2 L794.0,704.2 L794.5,702.3 L795.0,700.3 L795.5,699.4 L796.0,697.8 L796.5,696.9 L797.0,696.5 L797.5,695.3 L798.0,695.6 L798.5,694.6 L799.0,694.5 L799.5,693.2 L800.0,692.6 L800.5,692.3 L801.0,692.0 L801.5,691.0 L802.0,690.8 L802.6,690.1 L803.1,690.1 L803.6,688.6 L804.1,688.5 L804.6,687.3 L805.1,686.4 L805.6,685.8 L806.1,684.9 L806.6,684.6 L807.1,684.1 L807.6,683.0 L808.1,682.3 L808.6,681.8 L809.1,680.3 L809.6,679.1 L810.1,677.8 L810.6,676.1 L811.1,675.6 L811.6,673.4 L812.1,673.0 L812.6,671.6 L813.1,670.9 L813.6,669.5 L814.1,668.3 L814.6,668.1 L815.1,667.2 L815.6,667.0 L816.1,666.7 L816.6,666.2 L817.1,665.9 L817.6,665.4 L818.1,665.4 L818.6,664.4 L819.1,664.9 L819.6,664.4 L820.1,665.1 L820.6,665.0 L821.1,663.8 L821.6,664.4 L822.1,664.2 L822.6,663.8 L823.1,664.3 L823.6,663.9 L824.1,663.4 L824.6,663.9 L825.1,663.8 L825.6,663.9 L826.1,663.3 L826.6,663.9 L827.1,663.8 L827.6,663.1 L828.1,663.1 L828.6,663.2 L829.1,662.8 L829.6,663.3 L830.1,662.4 L830.6,661.6 L831.1,661.3 L831.6,661.1 L832.1,661.4 L832.6,660.1 L833.1,659.8 L833.6,659.5 L834.1,658.9 L834.6,659.3 L835.1,658.0 L835.6,658.2 L836.1,657.6 L836.6,657.4 L837.1,656.4 L837.6,657.1 L838.1,656.2 L838.6,655.9 L839.1,655.4 L839.6,655.2 L840.2,655.6 L840.7,655.6 L841.2,655.6 L841.7,655.8 L842.2,655.7 L842.7,655.6 L843.2,656.0 L843.7,656.2 L844.2,656.1 L844.7,656.7 L845.2,657.1 L845.7,657.0 L846.2,657.1 L846.7,657.7 L847.2,658.4 L847.7,658.0 L848.2,658.3 L848.7,658.5 L849.2,659.3 L849.7,658.4 L850.2,659.4 L850.7,659.9 L851.2,659.4 L851.7,660.4 L852.2,660.3 L852.7,660.1 L853.2,660.6 L853.7,660.2 L854.2,660.7 L854.7,661.8 L855.2,661.0 L855.7,662.2 L856.2,661.7 L856.7,662.3 L857.2,662.1 L857.7,661.5 L858.2,662.3 L858.7,662.7 L859.2,662.4 L859.7,662.5 L860.2,663.2 L860.7,663.0 L861.2,662.8 L861.7,663.2 L862.2,663.9 L862.7,663.6 L863.2,664.2 L863.7,664.6 L864.2,664.2 L864.7,663.9 L865.2,664.0 L865.7,664.7 L866.2,665.2 L866.7,665.2 L867.2,665.5 L867.7,665.4 L868.2,666.0 L868.7,666.1 L869.2,666.5 L869.7,666.5 L870.2,666.9 L870.7,667.7 L871.2,667.9 L871.7,668.4 L872.2,669.5 L872.7,669.7 L873.2,671.3 L873.7,671.1 L874.2,671.0 L874.7,672.0 L875.2,672.5 L875.7,672.7 L876.2,673.9 L876.7,673.9 L877.2,673.7 L877.8,675.7 L878.3,675.9 L878.8,677.3 L879.3,677.2 L879.8,677.7 L880.3,679.4 L880.8,679.1 L881.3,680.2 L881.8,681.3 L882.3,681.5 L882.8,682.0 L883.3,682.7 L883.8,683.5 L884.3,683.5 L884.8,684.6 L885.3,685.2 L885.8,686.4 L886.3,686.0 L886.8,686.4 L887.3,687.5 L887.8,687.6 L888.3,688.4 L888.8,688.9 L889.3,689.8 L889.8,689.7 L890.3,690.5 L890.8,690.2 L891.3,691.3 L891.8,692.7 L892.3,692.4 L892.8,692.9 L893.3,693.3 L893.8,694.4 L894.3,694.8 L894.8,694.9 L895.3,696.0 L895.8,696.4 L896.3,697.1 L896.8,697.1 L897.3,698.5 L897.8,698.5 L898.3,698.8 L898.8,699.2 L899.3,699.8 L899.8,700.7 L900.3,700.8 L900.8,701.8 L901.3,702.1 L901.8,702.8 L902.3,703.1 L902.8,703.3 L903.3,703.2 L903.8,704.4 L904.3,705.1 L904.8,705.4 L905.3,706.0 L905.8,706.2 L906.3,706.7 L906.8,707.0 L907.3,708.3 L907.8,708.4 L908.3,708.7 L908.8,708.9 L909.3,709.9 L909.8,711.0 L910.3,711.2 L910.8,711.3 L911.3,712.6 L911.8,713.1 L912.3,713.5 L912.8,713.9 L913.3,714.6 L913.8,714.9 L914.3,715.5 L914.8,715.4 L915.4,716.7 L915.9,716.8 L916.4,717.8 L916.9,716.9 L917.4,718.3 L917.9,718.8 L918.4,718.7 L918.9,719.4 L919.4,719.9 L919.9,720.2 L920.4,720.2 L920.9,720.6 L921.4,721.4 L921.9,721.8 L922.4,721.7 L922.9,722.1 L923.4,722.4 L923.9,723.0 L924.4,722.6 L924.9,722.8 L925.4,723.6 L925.9,723.4 L926.4,723.9 L926.9,724.4 L927.4,724.8 L927.9,724.6 L928.4,725.5 L928.9,724.8 L929.4,725.9 L929.9,725.4 L930.4,725.8 L930.9,726.7 L931.4,726.6 L931.9,726.7 L932.4,727.0 L932.9,727.6 L933.4,727.6 L933.9,727.9 L934.4,728.5 L934.9,728.1 L935.4,728.4 L935.9,728.7 L936.4,729.5 L936.9,729.7 L937.4,730.0 L937.9,729.8 L938.4,730.0 L938.9,730.6 L939.4,730.4 L939.9,731.1 L940.4,731.3 L940.9,731.0 L941.4,731.5 L941.9,731.8 L942.4,732.7 L942.9,733.3 L943.4,732.6 L943.9,732.9 L944.4,732.4 L944.9,733.6 L945.4,733.8 L945.9,733.8 L946.4,734.7 L946.9,734.2 L947.4,735.0 L947.9,735.4 L948.4,735.3 L948.9,736.3 L949.4,736.7 L949.9,736.1 L950.4,736.5 L950.9,737.5 L951.4,737.5 L951.9,737.4 L952.5,738.1 L953.0,738.4 L953.5,738.7 L954.0,739.3 L954.5,739.4 L955.0,740.2 L955.5,740.3 L956.0,740.4 L956.5,740.7 L957.0,741.1 L957.5,741.1 L958.0,740.7 L958.5,741.6 L959.0,741.5 L959.5,742.3 L960.0,741.9 L960.5,742.3 L961.0,742.4 L961.5,743.0 L962.0,742.7 L962.5,742.7 L963.0,743.1 L963.5,743.0 L964.0,743.3 L964.5,743.4 L965.0,743.7 L965.5,744.4 L966.0,743.7 L966.5,744.0 L967.0,744.1 L967.5,744.6 L968.0,744.0 L968.5,744.4 L969.0,744.7 L969.5,745.1 L970.0,745.0 L970.5,745.0 L971.0,745.0 L971.5,745.6 L972.0,746.1 L972.5,745.8 L973.0,745.9 L973.5,746.1 L974.0,745.8 L974.5,746.1 L975.0,746.3 L975.5,746.6 L976.0,746.7 L976.5,746.4 L977.0,747.4 L977.5,747.7 L978.0,747.2 L978.5,747.6 L979.0,747.7 L979.5,748.0 L980.0,747.4 L980.5,748.6 L981.0,748.1 L981.5,748.8 L982.0,748.6 L982.5,748.6 L983.0,748.8 L983.5,749.4 L984.0,748.9 L984.5,749.2 L985.0,749.3 L985.5,749.1 L986.0,750.3 L986.5,750.2 L987.0,750.1 L987.5,750.7 L988.0,750.1 L988.5,750.6 L989.0,751.4 L989.5,751.3 L990.1,750.3 L990.6,750.1 L991.1,751.0 L991.6,751.9 L992.1,751.5 L992.6,751.8 L993.1,752.2 L993.6,751.8 L994.1,752.4 L994.6,752.7 L995.1,752.7 L995.6,752.9 L996.1,752.6 L996.6,753.2 L997.1,753.0 L997.6,753.7 L998.1,754.3 L998.6,753.3 L999.1,752.9 L999.6,753.7 L1000.1,754.1 L1000.6,754.4 L1001.1,754.6 L1001.6,754.1 L1002.1,754.2 L1002.6,755.1 L1003.1,754.4 L1003.6,755.3 L1004.1,754.9 L1004.6,755.4 L1005.1,755.5 L1005.6,755.7 L1006.1,755.8 L1006.6,755.3 L1007.1,755.9 L1007.6,756.0 L1008.1,756.2 L1008.6,756.7 L1009.1,756.3 L1009.6,756.2 L1010.1,756.4 L1010.6,756.6 L1011.1,757.1 L1011.6,756.7 L1012.1,757.5 L1012.6,757.3 L1013.1,757.3 L1013.6,757.0 L1014.1,757.7 L1014.6,758.0 L1015.1,757.2 L1015.6,758.4 L1016.1,758.6 L1016.6,758.3 L1017.1,758.4 L1017.6,759.2 L1018.1,758.9 L1018.6,758.3 L1019.1,758.7 L1019.6,758.7 L1020.1,758.8 L1020.6,758.2 L1021.1,759.3 L1021.6,758.9 L1022.1,759.3 L1022.6,759.3 L1023.1,759.7 L1023.6,759.4 L1024.1,759.3 L1024.6,759.8 L1025.1,760.2 L1025.6,759.7 L1026.1,760.3 L1026.6,760.0 L1027.1,759.8 L1027.7,760.6 L1028.2,759.8 L1028.7,760.6 L1029.2,760.1 L1029.7,760.5 L1030.2,760.0 L1030.7,760.2 L1031.2,760.9 L1031.7,760.6 L1032.2,760.6 L1032.7,760.5 L1033.2,760.9 L1033.7,760.3 L1034.2,760.5 L1034.7,760.9 L1035.2,760.7 L1035.7,760.8 L1036.2,761.1 L1036.7,761.1 L1037.2,761.1 L1037.7,761.8 L1038.2,761.6 L1038.7,761.8 L1039.2,761.4 L1039.7,761.3 L1040.2,761.0 L1040.7,761.4 L1041.2,760.9 L1041.7,761.4 L1042.2,762.0 L1042.7,762.3 L1043.2,762.1 L1043.7,761.5 L1044.2,762.0 L1044.7,761.6 L1045.2,762.3 L1045.7,762.0 L1046.2,762.4 L1046.7,763.0 L1047.2,762.5 L1047.7,763.0 L1048.2,762.3 L1048.7,762.2 L1049.2,762.8 L1049.7,763.0 L1050.2,762.2 L1050.7,762.5 L1051.2,762.0 L1051.7,762.5 L1052.2,762.9 L1052.7,762.6 L1053.2,762.5 L1053.7,762.2 L1054.2,762.9 L1054.7,763.1 L1055.2,763.0 L1055.7,762.9 L1056.2,762.5 L1056.7,763.6 L1057.2,763.0 L1057.7,763.0 L1058.2,763.3 L1058.7,762.3 L1059.2,763.1 L1059.7,763.1 L1060.2,763.4 L1060.7,763.7 L1061.2,763.5 L1061.7,762.7 L1062.2,763.3 L1062.7,763.5 L1063.2,763.5 L1063.7,763.1 L1064.2,763.0 L1064.7,763.8 L1065.3,763.8 L1065.8,763.7 L1066.3,763.1 L1066.8,764.4 L1067.3,762.8 L1067.8,763.7 L1068.3,764.6 L1068.8,763.9 L1069.3,764.1 L1069.8,763.6 L1070.3,764.5 L1070.8,763.7 L1071.3,764.2 L1071.8,764.2 L1072.3,763.9 L1072.8,764.6 L1073.3,763.8 L1073.8,764.1 L1074.3,764.4 L1074.8,764.3 L1075.3,764.7 L1075.8,764.9 L1076.3,764.5 L1076.8,764.4 L1077.3,764.5 L1077.8,764.6 L1078.3,765.0 L1078.8,764.7 L1079.3,765.0 L1079.8,764.8 L1080.3,764.6 L1080.8,765.2 L1081.3,764.6 L1081.8,765.0 L1082.3,765.6 L1082.8,764.7 L1083.3,765.1 L1083.8,764.6 L1084.3,765.0 L1084.8,764.7 L1085.3,765.1 L1085.8,765.1 L1086.3,765.4 L1086.8,765.9 L1087.3,765.5 L1087.8,765.6 L1088.3,765.4 L1088.8,765.4 L1089.3,765.2 L1089.8,764.9 L1090.3,765.6 L1090.8,766.1 L1091.3,765.8 L1091.8,765.4 L1092.3,766.2 L1092.8,765.5 L1093.3,765.5 L1093.8,765.3 L1094.3,765.4 L1094.8,765.6 L1095.3,766.4 L1095.8,765.7 L1096.3,765.4 L1096.8,765.6 L1097.3,765.7 L1097.8,765.2 L1098.3,765.9 L1098.8,766.1 L1099.3,766.0 L1099.8,766.1 L1100.3,765.4 L1100.8,765.3 L1101.3,766.3 L1101.8,766.3 L1102.3,765.4 L1102.9,766.0 L1103.4,765.9 L1103.9,766.1 L1104.4,766.0 L1104.9,765.8 L1105.4,766.0 L1105.9,766.0 L1106.4,766.0 L1106.9,765.3 L1107.4,764.9 L1107.9,765.7 L1108.4,765.4 L1108.9,766.1 L1109.4,766.3 L1109.9,766.1 L1110.4,765.9 L1110.9,766.1 L1111.4,766.5 L1111.9,765.8 L1112.4,766.4 L1112.9,766.3 L1113.4,766.2 L1113.9,766.6 L1114.4,765.9 L1114.9,766.5 L1115.4,765.8 L1115.9,765.9 L1116.4,765.8 L1116.9,766.3 L1117.4,765.8 L1117.9,766.2 L1118.4,765.8 L1118.9,766.6 L1119.4,766.8 L1119.9,766.3 L1120.4,766.8 L1120.9,766.4 L1121.4,767.0 L1121.9,766.3 L1122.4,765.7 L1122.9,766.8 L1123.4,766.2 L1123.9,765.9 L1124.4,766.0 L1124.9,765.7 L1125.4,766.2 L1125.9,765.9 L1126.4,766.8 L1126.9,766.5 L1127.4,765.7 L1127.9,765.8 L1128.4,766.1 L1128.9,765.6 L1129.4,766.3 L1129.9,766.3 L1130.4,766.1 L1130.9,766.1 L1131.4,766.5 L1131.9,766.8 L1132.4,766.9 L1132.9,766.4 L1133.4,766.7 L1133.9,766.1 L1134.4,766.5 L1134.9,766.0 L1135.4,766.6 L1135.9,766.0 L1136.4,766.1 L1136.9,766.4 L1137.4,766.6 L1137.9,765.9 L1138.4,766.2 L1138.9,766.5 L1139.4,766.5 L1139.9,766.1 L1140.5,766.5 L1141.0,766.3 L1141.5,766.9 L1142.0,766.6 L1142.5,766.0 L1143.0,765.7 L1143.5,766.5 L1144.0,766.9 L1144.5,766.5 L1145.0,766.8 L1145.5,766.3 L1146.0,766.0 L1146.5,766.7 L1147.0,766.5 L1147.5,766.7 L1148.0,766.0 L1148.5,766.5 L1149.0,766.3 L1149.5,766.8 L1150.0,766.3 L1150.5,766.3 L1151.0,766.3 L1151.5,766.9 L1152.0,766.5 L1152.5,766.2 L1153.0,766.1 L1153.5,766.1 L1154.0,767.0 L1154.5,765.9 L1155.0,766.2 L1155.5,766.7 L1156.0,766.9 L1156.5,766.4 L1157.0,766.8 L1157.5,766.8 L1158.0,766.8 L1158.5,766.5 L1159.0,767.1" fill="none" stroke="#000" stroke-width="2.3" stroke-linejoin="round" stroke-linecap="round"/>
<line x1="727.50" y1="779.50" x2="727.50" y2="789.20" stroke="#000" stroke-width="2.4"/>
<text transform="translate(26.21,63.75) scale(0.4560,0.4565)" font-size="100" font-weight="bold" font-style="italic" fill="#000">A.</text>
<text transform="translate(83.24,63.70) scale(0.3822,0.3658)" font-size="100" font-weight="bold" font-style="italic" fill="#000">rod photoreceptor</text>
<text transform="translate(726.61,64.00) scale(0.4438,0.4638)" font-size="100" font-weight="bold" font-style="italic" fill="#000">B.</text>
<text transform="translate(782.24,63.75) scale(0.3823,0.3705)" font-size="100" font-weight="bold" font-style="italic" fill="#000">rod bipolar cell</text>
<text transform="translate(32.02,575.34) scale(0.4360,0.4634)" font-size="100" font-weight="bold" font-style="italic" fill="#000">C.</text>
<text transform="translate(87.14,574.90) scale(0.3824,0.3712)" font-size="100" font-weight="bold" font-style="italic" fill="#000">retinal ganglion cell</text>
<text transform="translate(713.72,574.80) scale(0.4399,0.4580)" font-size="100" font-weight="bold" font-style="italic" fill="#000">D.</text>
<text transform="translate(768.45,574.90) scale(0.3822,0.3712)" font-size="100" font-weight="bold" font-style="italic" fill="#000">cone bipolar cell</text>
<text transform="translate(188.08,467.69) scale(0.3162,0.3245)" font-size="100" font-weight="bold" fill="#000">time (ms)</text>
<text transform="translate(182.44,982.55) scale(0.3144,0.3191)" font-size="100" font-weight="bold" fill="#000">time (ms)</text>
<text transform="translate(838.43,988.88) scale(0.3178,0.3271)" font-size="100" font-weight="bold" fill="#000">time (ms)</text>
<text transform="translate(708.79,458.70) scale(0.3164,0.3205)" font-size="100" font-weight="bold" fill="#000">luminous energy (log cd s m</text>
<text transform="translate(1136.95,442.80) scale(0.2136,0.2007)" font-size="100" font-weight="bold" fill="#000">-2</text>
<text transform="translate(1155.00,458.60) scale(0.3357,0.3191)" font-size="100" font-weight="bold" fill="#000">)</text>
<text transform="translate(639.70,313.04) rotate(-90) scale(0.3131,0.3192)" font-size="100" font-weight="bold" fill="#000">amplitude (μV)</text>
<text transform="translate(90.13,106.77) scale(0.3360,0.3338)" font-size="100" fill="#000">t</text>
<text transform="translate(98.31,116.05) scale(0.2222,0.1953)" font-size="100" fill="#000">d</text>
<text transform="translate(160.39,261.91) scale(0.3228,0.3373)" font-size="100" fill="#000">S</text>
<text transform="translate(354.52,363.30) scale(0.3220,0.3196)" font-size="100" fill="#000">Rm</text>
<text transform="translate(404.12,372.50) scale(0.2102,0.2116)" font-size="100" fill="#000">PIII</text>
<text transform="translate(897.48,206.50) scale(0.3310,0.3093)" font-size="100" fill="#000">n</text>
<text transform="translate(938.03,311.80) scale(0.3093,0.2959)" font-size="100" fill="#000">k</text>
<text transform="translate(1062.18,105.00) scale(0.3200,0.3319)" font-size="100" fill="#000">V</text>
<text transform="translate(1083.13,113.80) scale(0.2094,0.2018)" font-size="100" fill="#000">max</text>
<text transform="translate(161.48,618.60) scale(0.3241,0.3336)" font-size="100" fill="#000">pSTR</text>
<text transform="translate(243.08,627.90) scale(0.2059,0.1944)" font-size="100" fill="#000">amp</text>
<text transform="translate(64.24,801.00) scale(0.3230,0.3357)" font-size="100" fill="#000">pSTR</text>
<text transform="translate(145.27,810.60) scale(0.2190,0.1973)" font-size="100" fill="#000">it</text>
<text transform="translate(832.22,643.90) scale(0.3198,0.3210)" font-size="100" fill="#000">cone PII</text>
<text transform="translate(947.87,652.50) scale(0.2070,0.1944)" font-size="100" fill="#000">amp</text>
<text transform="translate(708.73,839.70) scale(0.3164,0.3188)" font-size="100" fill="#000">cone PII</text>
<text transform="translate(822.93,848.12) scale(0.2524,0.1797)" font-size="100" fill="#000">it</text>
<text transform="translate(62.90,279.28) rotate(-90) scale(0.2556,0.2586)" font-size="100" fill="#000">200 μV</text>
<text transform="translate(482.00,729.64) rotate(-90) scale(0.2483,0.2571)" font-size="100" fill="#000">20μV</text>
<text transform="translate(1149.80,741.01) rotate(-90) scale(0.2528,0.2557)" font-size="100" fill="#000">400 μV</text>
<line x1="45.00" y1="380.20" x2="495.80" y2="380.20" stroke="#000" stroke-width="1.6"/>
<line x1="62.30" y1="380.20" x2="62.30" y2="385.20" stroke="#000" stroke-width="1.2"/>
<line x1="95.60" y1="380.20" x2="95.60" y2="383.40" stroke="#000" stroke-width="1.2"/>
<line x1="128.90" y1="380.20" x2="128.90" y2="383.40" stroke="#000" stroke-width="1.2"/>
<line x1="162.20" y1="380.20" x2="162.20" y2="383.40" stroke="#000" stroke-width="1.2"/>
<line x1="195.50" y1="380.20" x2="195.50" y2="383.40" stroke="#000" stroke-width="1.2"/>
<line x1="228.80" y1="380.20" x2="228.80" y2="385.20" stroke="#000" stroke-width="1.2"/>
<line x1="262.10" y1="380.20" x2="262.10" y2="383.40" stroke="#000" stroke-width="1.2"/>
<line x1="295.40" y1="380.20" x2="295.40" y2="383.40" stroke="#000" stroke-width="1.2"/>
<line x1="328.70" y1="380.20" x2="328.70" y2="383.40" stroke="#000" stroke-width="1.2"/>
<line x1="362.00" y1="380.20" x2="362.00" y2="383.40" stroke="#000" stroke-width="1.2"/>
<line x1="395.30" y1="380.20" x2="395.30" y2="385.20" stroke="#000" stroke-width="1.2"/>
<line x1="428.60" y1="380.20" x2="428.60" y2="383.40" stroke="#000" stroke-width="1.2"/>
<line x1="461.90" y1="380.20" x2="461.90" y2="383.40" stroke="#000" stroke-width="1.2"/>
<line x1="495.20" y1="380.20" x2="495.20" y2="383.40" stroke="#000" stroke-width="1.2"/>
<text transform="translate(55.23,420.44) scale(0.2525,0.2606)" font-size="100">0</text>
<text transform="translate(214.28,420.44) scale(0.2525,0.2606)" font-size="100">10</text>
<text transform="translate(381.16,420.44) scale(0.2525,0.2606)" font-size="100">20</text>
<line x1="74.40" y1="197.00" x2="74.40" y2="278.60" stroke="#000" stroke-width="1.5"/>
<line x1="710.40" y1="25.30" x2="710.40" y2="385.10" stroke="#000" stroke-width="1.4"/>
<line x1="709.80" y1="384.40" x2="1160.80" y2="384.40" stroke="#000" stroke-width="1.4"/>
<line x1="706.80" y1="361.30" x2="710.40" y2="361.30" stroke="#000" stroke-width="1.1"/>
<line x1="707.80" y1="338.90" x2="710.40" y2="338.90" stroke="#000" stroke-width="1.1"/>
<line x1="707.80" y1="316.50" x2="710.40" y2="316.50" stroke="#000" stroke-width="1.1"/>
<line x1="707.80" y1="294.10" x2="710.40" y2="294.10" stroke="#000" stroke-width="1.1"/>
<line x1="707.80" y1="271.70" x2="710.40" y2="271.70" stroke="#000" stroke-width="1.1"/>
<line x1="706.80" y1="249.30" x2="710.40" y2="249.30" stroke="#000" stroke-width="1.1"/>
<line x1="707.80" y1="226.90" x2="710.40" y2="226.90" stroke="#000" stroke-width="1.1"/>
<line x1="707.80" y1="204.50" x2="710.40" y2="204.50" stroke="#000" stroke-width="1.1"/>
<line x1="707.80" y1="182.10" x2="710.40" y2="182.10" stroke="#000" stroke-width="1.1"/>
<line x1="707.80" y1="159.70" x2="710.40" y2="159.70" stroke="#000" stroke-width="1.1"/>
<line x1="706.80" y1="137.30" x2="710.40" y2="137.30" stroke="#000" stroke-width="1.1"/>
<line x1="707.80" y1="114.90" x2="710.40" y2="114.90" stroke="#000" stroke-width="1.1"/>
<line x1="707.80" y1="92.50" x2="710.40" y2="92.50" stroke="#000" stroke-width="1.1"/>
<line x1="707.80" y1="70.10" x2="710.40" y2="70.10" stroke="#000" stroke-width="1.1"/>
<line x1="707.80" y1="47.70" x2="710.40" y2="47.70" stroke="#000" stroke-width="1.1"/>
<line x1="706.80" y1="25.30" x2="710.40" y2="25.30" stroke="#000" stroke-width="1.1"/>
<line x1="709.80" y1="384.40" x2="709.80" y2="387.20" stroke="#000" stroke-width="1.1"/>
<line x1="736.30" y1="384.40" x2="736.30" y2="388.40" stroke="#000" stroke-width="1.1"/>
<line x1="762.80" y1="384.40" x2="762.80" y2="387.20" stroke="#000" stroke-width="1.1"/>
<line x1="789.30" y1="384.40" x2="789.30" y2="387.20" stroke="#000" stroke-width="1.1"/>
<line x1="815.80" y1="384.40" x2="815.80" y2="387.20" stroke="#000" stroke-width="1.1"/>
<line x1="842.30" y1="384.40" x2="842.30" y2="388.40" stroke="#000" stroke-width="1.1"/>
<line x1="868.80" y1="384.40" x2="868.80" y2="387.20" stroke="#000" stroke-width="1.1"/>
<line x1="895.30" y1="384.40" x2="895.30" y2="387.20" stroke="#000" stroke-width="1.1"/>
<line x1="921.80" y1="384.40" x2="921.80" y2="387.20" stroke="#000" stroke-width="1.1"/>
<line x1="948.30" y1="384.40" x2="948.30" y2="388.40" stroke="#000" stroke-width="1.1"/>
<line x1="974.80" y1="384.40" x2="974.80" y2="387.20" stroke="#000" stroke-width="1.1"/>
<line x1="1001.30" y1="384.40" x2="1001.30" y2="387.20" stroke="#000" stroke-width="1.1"/>
<line x1="1027.80" y1="384.40" x2="1027.80" y2="387.20" stroke="#000" stroke-width="1.1"/>
<line x1="1054.30" y1="384.40" x2="1054.30" y2="388.40" stroke="#000" stroke-width="1.1"/>
<line x1="1080.80" y1="384.40" x2="1080.80" y2="387.20" stroke="#000" stroke-width="1.1"/>
<line x1="1107.30" y1="384.40" x2="1107.30" y2="387.20" stroke="#000" stroke-width="1.1"/>
<line x1="1133.80" y1="384.40" x2="1133.80" y2="387.20" stroke="#000" stroke-width="1.1"/>
<line x1="1160.30" y1="384.40" x2="1160.30" y2="388.40" stroke="#000" stroke-width="1.1"/>
<text transform="translate(687.36,368.30) scale(0.1931,0.1972)" font-size="100">0</text>
<text transform="translate(665.93,256.30) scale(0.1931,0.1972)" font-size="100">500</text>
<text transform="translate(655.31,144.30) scale(0.1931,0.1972)" font-size="100">1000</text>
<text transform="translate(655.31,32.30) scale(0.1931,0.1972)" font-size="100">1500</text>
<text transform="translate(727.80,414.80) scale(0.1931,0.1972)" font-size="100">-6</text>
<text transform="translate(833.61,414.80) scale(0.1931,0.1972)" font-size="100">-4</text>
<text transform="translate(939.80,414.80) scale(0.1931,0.1972)" font-size="100">-2</text>
<text transform="translate(1048.89,414.80) scale(0.1931,0.1972)" font-size="100">0</text>
<text transform="translate(1154.89,414.80) scale(0.1931,0.1972)" font-size="100">2</text>
<line x1="41.90" y1="895.10" x2="492.80" y2="895.10" stroke="#000" stroke-width="1.7"/>
<line x1="51.45" y1="895.10" x2="51.45" y2="900.60" stroke="#000" stroke-width="1.2"/>
<line x1="73.47" y1="895.10" x2="73.47" y2="898.80" stroke="#000" stroke-width="1.2"/>
<line x1="95.50" y1="895.10" x2="95.50" y2="898.80" stroke="#000" stroke-width="1.2"/>
<line x1="117.53" y1="895.10" x2="117.53" y2="898.80" stroke="#000" stroke-width="1.2"/>
<line x1="139.55" y1="895.10" x2="139.55" y2="900.60" stroke="#000" stroke-width="1.2"/>
<line x1="161.57" y1="895.10" x2="161.57" y2="898.80" stroke="#000" stroke-width="1.2"/>
<line x1="183.60" y1="895.10" x2="183.60" y2="898.80" stroke="#000" stroke-width="1.2"/>
<line x1="205.62" y1="895.10" x2="205.62" y2="898.80" stroke="#000" stroke-width="1.2"/>
<line x1="227.65" y1="895.10" x2="227.65" y2="900.60" stroke="#000" stroke-width="1.2"/>
<line x1="249.68" y1="895.10" x2="249.68" y2="898.80" stroke="#000" stroke-width="1.2"/>
<line x1="271.70" y1="895.10" x2="271.70" y2="898.80" stroke="#000" stroke-width="1.2"/>
<line x1="293.73" y1="895.10" x2="293.73" y2="898.80" stroke="#000" stroke-width="1.2"/>
<line x1="315.75" y1="895.10" x2="315.75" y2="900.60" stroke="#000" stroke-width="1.2"/>
<line x1="337.77" y1="895.10" x2="337.77" y2="898.80" stroke="#000" stroke-width="1.2"/>
<line x1="359.80" y1="895.10" x2="359.80" y2="898.80" stroke="#000" stroke-width="1.2"/>
<line x1="381.82" y1="895.10" x2="381.82" y2="898.80" stroke="#000" stroke-width="1.2"/>
<line x1="403.85" y1="895.10" x2="403.85" y2="900.60" stroke="#000" stroke-width="1.2"/>
<line x1="425.88" y1="895.10" x2="425.88" y2="898.80" stroke="#000" stroke-width="1.2"/>
<line x1="447.90" y1="895.10" x2="447.90" y2="898.80" stroke="#000" stroke-width="1.2"/>
<line x1="469.93" y1="895.10" x2="469.93" y2="898.80" stroke="#000" stroke-width="1.2"/>
<line x1="491.95" y1="895.10" x2="491.95" y2="900.60" stroke="#000" stroke-width="1.2"/>
<text transform="translate(44.26,935.14) scale(0.2568,0.2577)" font-size="100">0</text>
<text transform="translate(117.60,935.14) scale(0.2568,0.2577)" font-size="100">100</text>
<text transform="translate(206.08,935.14) scale(0.2568,0.2577)" font-size="100">200</text>
<text transform="translate(294.31,935.14) scale(0.2568,0.2577)" font-size="100">300</text>
<text transform="translate(382.67,935.14) scale(0.2568,0.2577)" font-size="100">400</text>
<text transform="translate(470.51,935.14) scale(0.2568,0.2577)" font-size="100">500</text>
<line x1="450.50" y1="652.50" x2="450.50" y2="743.40" stroke="#000" stroke-width="1.6"/>
<line x1="709.25" y1="895.90" x2="1159.20" y2="895.90" stroke="#000" stroke-width="1.7"/>
<line x1="709.00" y1="895.90" x2="709.00" y2="899.60" stroke="#000" stroke-width="1.2"/>
<line x1="726.30" y1="895.90" x2="726.30" y2="901.40" stroke="#000" stroke-width="1.2"/>
<line x1="743.60" y1="895.90" x2="743.60" y2="899.60" stroke="#000" stroke-width="1.2"/>
<line x1="760.90" y1="895.90" x2="760.90" y2="899.60" stroke="#000" stroke-width="1.2"/>
<line x1="778.20" y1="895.90" x2="778.20" y2="899.60" stroke="#000" stroke-width="1.2"/>
<line x1="795.50" y1="895.90" x2="795.50" y2="899.60" stroke="#000" stroke-width="1.2"/>
<line x1="812.80" y1="895.90" x2="812.80" y2="901.40" stroke="#000" stroke-width="1.2"/>
<line x1="830.10" y1="895.90" x2="830.10" y2="899.60" stroke="#000" stroke-width="1.2"/>
<line x1="847.40" y1="895.90" x2="847.40" y2="899.60" stroke="#000" stroke-width="1.2"/>
<line x1="864.70" y1="895.90" x2="864.70" y2="899.60" stroke="#000" stroke-width="1.2"/>
<line x1="882.00" y1="895.90" x2="882.00" y2="899.60" stroke="#000" stroke-width="1.2"/>
<line x1="899.30" y1="895.90" x2="899.30" y2="901.40" stroke="#000" stroke-width="1.2"/>
<line x1="916.60" y1="895.90" x2="916.60" y2="899.60" stroke="#000" stroke-width="1.2"/>
<line x1="933.90" y1="895.90" x2="933.90" y2="899.60" stroke="#000" stroke-width="1.2"/>
<line x1="951.20" y1="895.90" x2="951.20" y2="899.60" stroke="#000" stroke-width="1.2"/>
<line x1="968.50" y1="895.90" x2="968.50" y2="899.60" stroke="#000" stroke-width="1.2"/>
<line x1="985.80" y1="895.90" x2="985.80" y2="901.40" stroke="#000" stroke-width="1.2"/>
<line x1="1003.10" y1="895.90" x2="1003.10" y2="899.60" stroke="#000" stroke-width="1.2"/>
<line x1="1020.40" y1="895.90" x2="1020.40" y2="899.60" stroke="#000" stroke-width="1.2"/>
<line x1="1037.70" y1="895.90" x2="1037.70" y2="899.60" stroke="#000" stroke-width="1.2"/>
<line x1="1055.00" y1="895.90" x2="1055.00" y2="899.60" stroke="#000" stroke-width="1.2"/>
<line x1="1072.30" y1="895.90" x2="1072.30" y2="901.40" stroke="#000" stroke-width="1.2"/>
<line x1="1089.60" y1="895.90" x2="1089.60" y2="899.60" stroke="#000" stroke-width="1.2"/>
<line x1="1106.90" y1="895.90" x2="1106.90" y2="899.60" stroke="#000" stroke-width="1.2"/>
<line x1="1124.20" y1="895.90" x2="1124.20" y2="899.60" stroke="#000" stroke-width="1.2"/>
<line x1="1141.50" y1="895.90" x2="1141.50" y2="899.60" stroke="#000" stroke-width="1.2"/>
<line x1="1158.80" y1="895.90" x2="1158.80" y2="901.40" stroke="#000" stroke-width="1.2"/>
<text transform="translate(719.21,935.25) scale(0.2532,0.2451)" font-size="100">0</text>
<text transform="translate(798.75,935.25) scale(0.2532,0.2451)" font-size="100">50</text>
<text transform="translate(877.65,935.25) scale(0.2532,0.2451)" font-size="100">100</text>
<text transform="translate(964.15,935.25) scale(0.2532,0.2451)" font-size="100">150</text>
<text transform="translate(1051.03,935.25) scale(0.2532,0.2451)" font-size="100">200</text>
<text transform="translate(1137.53,935.25) scale(0.2532,0.2451)" font-size="100">250</text>
<line x1="1112.70" y1="656.10" x2="1112.70" y2="743.50" stroke="#000" stroke-width="1.6"/>
</svg>
</body></html>
